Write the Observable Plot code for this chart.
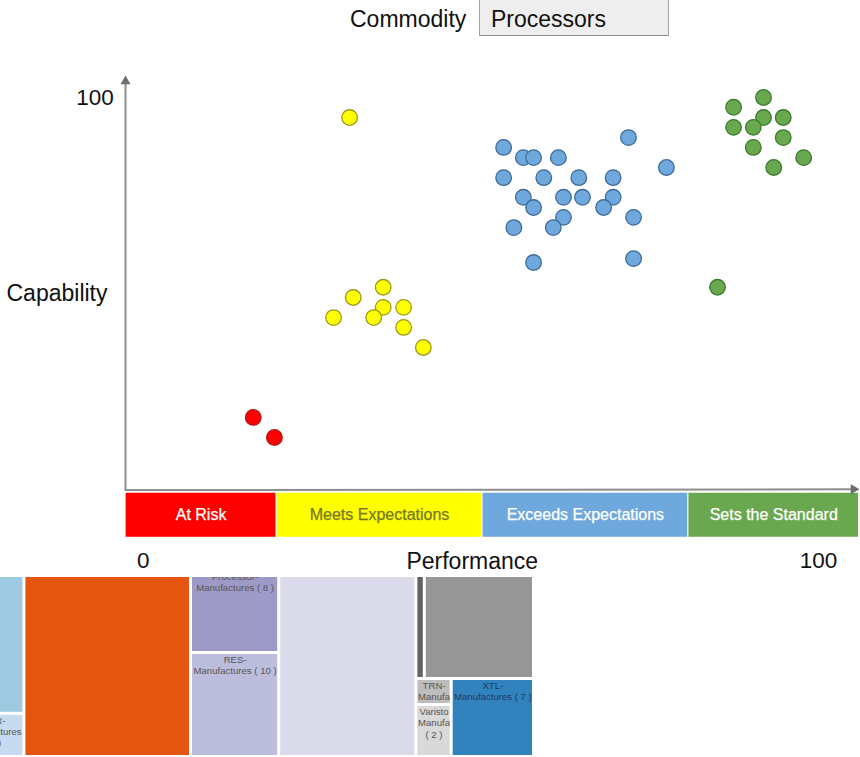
<!DOCTYPE html>
<html>
<head>
<meta charset="utf-8">
<script src="https://cdn.jsdelivr.net/npm/d3@7"></script>
<script src="https://cdn.jsdelivr.net/npm/@observablehq/plot@0.6"></script>
<style>
  html, body { margin: 0; padding: 0; background: white; }
  #root { position: relative; width: 860px; height: 757px; overflow: hidden; font-family: 'Liberation Sans', Arial, Helvetica, sans-serif; }
  #scatter, #treemap { display: block; line-height: 0; }
  .hdr { position: absolute; left: 350px; top: 6px; font-size: 23px; line-height: 26.5px; color: #111; }
  .box { position: absolute; left: 479px; top: -2px; width: 177px; height: 29px; padding: 7px 0 0 11px;
         font-size: 23px; line-height: 26.5px; color: #111; background: #eeeeee;
         border: 1px solid #a3a3a3; border-bottom-color: #8a8a8a; }
</style>
</head>
<body>
<div id="root">
  <div id="scatter"></div>
  <div id="treemap"></div>
  <div class="hdr">Commodity</div>
  <div class="box">Processors</div>
</div>
<script>
// ---------------- data ----------------
const categories = ["At Risk", "Meets Expectations", "Exceeds Expectations", "Sets the Standard"];
const bandStart = [0, 20.7, 48.9, 77.1];
const bandEnd = [20.7, 48.9, 77.1, 100.5];

const atRiskPerf = [17.5, 20.4];
const atRiskCap = [18.6, 13.5];
const meetsPerf = [30.7, 35.3, 31.2, 35.3, 38.1, 28.5, 34.0, 38.1, 40.8];
const meetsCap = [94.9, 51.7, 49.1, 46.6, 46.6, 44.0, 44.0, 41.5, 36.4];
const exceedsPerf = [51.8, 54.5, 55.9, 59.3, 68.9, 51.8, 57.3, 62.1, 66.8, 74.1, 54.5, 60.0, 62.6, 66.8, 55.9, 65.5, 60.0, 69.6, 53.2, 58.6, 55.9, 69.6];
const exceedsCap = [87.3, 84.7, 84.7, 84.7, 89.8, 79.6, 79.6, 79.6, 79.6, 82.2, 74.6, 74.6, 74.6, 74.6, 72.0, 72.0, 69.5, 69.5, 66.9, 66.9, 58.0, 59.0];
const standardPerf = [87.4, 83.3, 87.4, 90.1, 83.3, 86.0, 90.1, 86.0, 92.9, 88.8, 81.1];
const standardCap = [100, 97.5, 94.9, 94.9, 92.4, 92.4, 89.8, 87.3, 84.7, 82.2, 51.7];

const xTickLabels = ["0", "100"];
const yTickLabels = ["100"];
const xAxisTitle = "Performance";
const yAxisTitle = "Capability";

// treemap (Commodity breakdown)
const tmPaths = ["c1/a", "c1/b", "c2", "c3/a", "c3/b", "c4", "c5/top/a", "c5/top/b", "c5/bottom/tv/a", "c5/bottom/tv/b", "c5/bottom/xtl"];
const tmNames = [null, "PWR", null, "Processor", "RES", null, null, null, "TRN", "Varisto", "XTL"];
const tmValues = [10, 3, 34, 8, 10, 28, 1, 13, 1, 2, 7];

// ---------------- styles ----------------
const FONT = "'Liberation Sans', Arial, Helvetica, sans-serif";
const bandColors = ["#ff0000", "#ffff00", "#6fa8dc", "#6aa84f"];
const bandTextColors = ["#ffffff", "#77772a", "#ffffff", "#ffffff"];
const dotStrokes = ["#b51a1a", "#9c9a16", "#3e6b98", "#3c7a2c"];
const tmColors = ["#9ecae1", "#c6dbef", "#e6550d", "#9e9ac8", "#bcbddc", "#dadaeb", "#636363", "#969696", "#bdbdbd", "#d9d9d9", "#3182bd"];
const tmTextColors = ["#555", "#555", "#555", "#555", "#555", "#555", "#555", "#555", "#555", "#555", "#1c3d63"];

// ---------------- scatter ----------------
const perfs = [atRiskPerf, meetsPerf, exceedsPerf, standardPerf];
const caps = [atRiskCap, meetsCap, exceedsCap, standardCap];
const groups = categories.map((c, i) => perfs[i].map((p, j) => ({category: c, perf: p, cap: caps[i][j]})));

const bandTop = -0.7, bandBottom = -11.9, labelRow = -18;

const scatter = Plot.plot({
  width: 860, height: 577,
  marginLeft: 125, marginRight: 5, marginTop: 97, marginBottom: 87,
  x: {domain: [0, 100], axis: null},
  y: {domain: [0, 100], axis: null},
  style: {fontFamily: FONT, background: "white", overflow: "visible"},
  marks: [
    // performance bands
    Plot.rect(categories, {
      x1: (d, i) => bandStart[i], x2: (d, i) => bandEnd[i],
      y1: () => bandTop, y2: () => bandBottom,
      fill: (d, i) => bandColors[i], insetLeft: 0.6, insetRight: 0.6
    }),
    Plot.text(categories, {
      x: (d, i) => (bandStart[i] + bandEnd[i]) / 2, y: () => (bandTop + bandBottom) / 2,
      text: d => d, fill: (d, i) => bandTextColors[i], fontSize: 16, stroke: (d, i) => bandTextColors[i], strokeWidth: 0.25
    }),
    // axes with arrows
    Plot.link([0], {x1: 0, y1: 0, x2: 0, y2: 104, stroke: "#8e8e8e", strokeWidth: 2}),
    Plot.link([0], {x1: -0.1, y1: 0.1, x2: 99.7, y2: 0.3, stroke: "#8e8e8e", strokeWidth: 2}),
    Plot.dot([0], {x: 0, y: 104.1, symbol: "triangle2", r: 4.8, fill: "#6e6e6e"}),
    Plot.dot([0], {x: 99.75, y: 0.3, symbol: "triangle2", r: 4.8, fill: "#6e6e6e", rotate: 90}),
    // dots
    ...groups.map((g, i) => Plot.dot(g, {x: "perf", y: "cap", r: 7.8, fill: bandColors[i], stroke: dotStrokes[i], strokeWidth: 1.3, fillOpacity: 1})),
    // tick labels and axis titles
    Plot.text(yTickLabels, {x: 0, y: 100, text: d => d, dx: -30.5, fontSize: 22.5, fill: "#111"}),
    Plot.text([yAxisTitle], {x: 0, y: 50, text: d => d, dx: -68.5, fontSize: 23, fill: "#111"}),
    Plot.text([xTickLabels[0]], {x: 0, y: labelRow, text: d => d, dx: 17.7, fontSize: 22.5, fill: "#111"}),
    Plot.text([xTickLabels[1]], {x: 100, y: labelRow, text: d => d, dx: -37, fontSize: 22.5, fill: "#111"}),
    Plot.text([xAxisTitle], {x: 47.5, y: labelRow, text: d => d, fontSize: 23, fill: "#111"})
  ]
});
document.getElementById("scatter").appendChild(scatter);

// ---------------- treemap ----------------
function buildTree(paths, values) {
  const root = {key: "root", children: []};
  paths.forEach((p, i) => {
    const parts = p.split("/");
    let node = root;
    parts.forEach((k, j) => {
      if (j === parts.length - 1) node.children.push({key: k, index: i, value: values[i]});
      else {
        let c = node.children.find(n => n.key === k && n.children);
        if (!c) { c = {key: k, children: []}; node.children.push(c); }
        node = c;
      }
    });
  });
  return root;
}
const total = d3.sum(tmValues);
const pxPerUnit = 4.9, tmPad = 3;
const tmW = total * pxPerUnit - tmPad, tmH = 184.2;
const tmRight = 532, tmBottom = 178;
const ox = tmRight - tmW, oy = tmBottom - tmH;

const hroot = d3.hierarchy(buildTree(tmPaths, tmValues)).sum(d => d.children ? 0 : d.value);
d3.treemap().tile(d3.treemapSliceDice).size([tmW, tmH]).paddingInner(tmPad)(hroot);
const leaves = hroot.leaves().map(n => ({
  i: n.data.index,
  x1: n.x0 + ox, x2: n.x1 + ox, y1: n.y0 + oy, y2: n.y1 + oy
}));

const fs = 9.6, lh = 1.18;
const ctx = document.createElement("canvas").getContext("2d");
ctx.font = `${fs}px 'Liberation Sans'`;
function cellLines(name, count, w, h) {
  const fit = s => ctx.measureText(s).width <= w - 0.1;
  const trunc = s => { while (s.length > 1 && !fit(s)) s = s.slice(0, -1); return s; };
  const rest = `Manufactures ( ${count} )`;
  let lines = [name + "-"];
  if (ctx.measureText(rest).width <= w + 0.5) lines.push(rest);
  else lines.push("Manufactures", `( ${count} )`);
  lines = lines.map(s => s === rest ? s : trunc(s));
  const n = Math.max(1, Math.floor((h + 1) / (fs * lh)));
  return lines.slice(0, n).join("\n");
}
const labeled = leaves.filter(d => tmNames[d.i]).map(d => ({
  ...d, label: cellLines(tmNames[d.i], tmValues[d.i], d.x2 - d.x1, d.y2 - d.y1)
}));

const tm = Plot.plot({
  width: 860, height: 180, margin: 0,
  x: {type: "identity", axis: null},
  y: {type: "identity", axis: null},
  style: {fontFamily: FONT, background: "white"},
  marks: [
    Plot.rect(leaves, {x1: "x1", x2: "x2", y1: "y1", y2: "y2", fill: d => tmColors[d.i]}),
    Plot.text(labeled, {
      x: d => (d.x1 + d.x2) / 2, y: d => d.y1 + 0.5, text: "label",
      lineAnchor: "top", fontSize: fs, lineHeight: lh, fill: d => tmTextColors[d.i]
    })
  ]
});
document.getElementById("treemap").appendChild(tm);
</script>
</body>
</html>
